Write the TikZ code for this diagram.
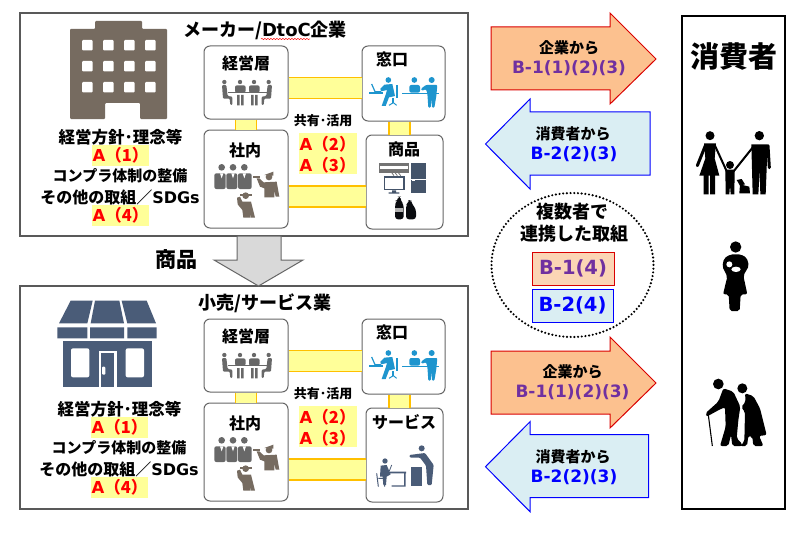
\documentclass[tikz,border=0pt]{standalone}
\usepackage{fontspec}
\setmainfont{Noto Sans CJK JP}
\newfontfamily\lat{DejaVu Sans}
\usetikzlibrary{decorations.pathmorphing}
\newcommand\fsz[1]{\fontsize{#1}{#1}\selectfont}
\definecolor{bandy}{HTML}{FFFF99}
\definecolor{bando}{HTML}{FFC000}
\definecolor{hly}{HTML}{FFFF99}
\definecolor{brownic}{HTML}{766B60}
\definecolor{slate}{HTML}{44546A}
\definecolor{store}{HTML}{4A5C78}
\definecolor{greyic}{HTML}{686868}
\definecolor{blueic}{HTML}{1E95CE}
\definecolor{orangef}{HTML}{FCC18F}
\definecolor{lightb}{HTML}{DAEEF3}
\definecolor{purp}{HTML}{7030A0}
\definecolor{orangeb}{HTML}{FBD5B5}
\tikzset{
  framebox/.style={draw=black!65,line width=1.2pt,fill=white,inner sep=0pt},
  unitbox/.style={draw=black!60,line width=1pt,fill=white,rounded corners=6pt,inner sep=0pt},
  band/.style={draw=bando,line width=1.6pt,double=bandy,double distance=19.5pt},
  lbl/.style={font=\bfseries\fsz{15},text=black,inner sep=0pt},
  ulbl/.style={font=\bfseries\fsz{16},text=black,inner sep=0pt},
  tag/.style={font=\bfseries\fsz{16.5},text=red,fill=hly,inner sep=0pt,minimum width=57pt,minimum height=21pt},
  tagb/.style={text=red,font=\bfseries\fsz{16.5},inner sep=0pt,anchor=west},
  redarrow/.style={draw=red!85!black,line width=1pt,fill=orangef},
  bluearrow/.style={draw=blue,line width=1pt,fill=lightb},
  btxt/.style={font=\lat\bfseries\fsz{17},inner sep=0pt},
  icon/.style={scale=1/3},
  limb/.style={line width=3pt,line cap=round},
}
\newcommand\atag[1]{{\lat A}（#1）}
% prefix, title, product label, x shift of left text, y shift of left text
\newcommand\panel[5]{%
  \node[framebox,minimum width=448pt,minimum height=223pt] (#1frame) at (244,124.5) {};
  \node[font=\bfseries\fsz{18},inner sep=0pt] (#1title) at (265,30) {#2};
  \node[unitbox,minimum width=84pt,minimum height=73pt] (#1mg) at (246,82.5) {};
  \node[unitbox,minimum width=83pt,minimum height=75pt] (#1win) at (403.5,83.5) {};
  \node[unitbox,minimum width=84pt,minimum height=98pt] (#1in) at (246,179) {};
  \node[unitbox,minimum width=77pt,minimum height=94pt] (#1prod) at (404.5,182) {};
  \draw[band] ([yshift=-5.5pt]#1mg.east) -- ([yshift=-5.5pt]#1mg.east -| #1win.west);
  \draw[band] ([yshift=-17.5pt]#1in.east) -- ([yshift=-17.5pt]#1in.east -| #1prod.west);
  \draw[band] (#1mg.south) -- (#1in.north);
  \draw[band] ([xshift=-4pt]#1win.south) -- ([xshift=-4pt]#1win.south |- #1prod.north);
  \node[ulbl] (#1lmg) at (246,63) {経営層};
  \node[ulbl] (#1lwin) at (392,59) {窓口};
  \node[ulbl] (#1lin) at (245,150) {社内};
  \node[ulbl] (#1lprod) at (404,149.5) {#3};
  \node[font=\bfseries\fsz{13},inner sep=0pt] (#1share) at (323,121) {共有･活用};
  \node[fill=hly,minimum width=58pt,minimum height=41pt,inner sep=0pt] (#1hl) at (328,153.5) {};
  \node[tagb] (#1a2) at (299.5,144) {\atag{2}};
  \node[tagb] (#1a3) at (299.5,165) {\atag{3}};
  \begin{scope}[shift={(#4,#5)}]
    \node[lbl,font=\bfseries\fsz{16.5}] (#1t1) at (120.5,137) {経営方針･理念等};
    \node[tag] (#1a1) at (120.5,155.5) {\atag{1}};
    \node[lbl] (#1t2) at (120,176) {コンプラ体制の整備};
    \node[lbl,font=\bfseries\fsz{16}] (#1t3) at (120,197) {その他の取組／{\lat SDGs}};
    \node[tag] (#1a4) at (120.5,215.5) {\atag{4}};
  \end{scope}
}
\newcommand\meeting{%
  \fill[greyic] (58,36) circle (6.5) (105,36) circle (6.5) (147,36) circle (6.5) (191,36) circle (6.5);
  \fill[greyic,rounded corners=2pt] (90,46) rectangle (122,68) (132,46) rectangle (164,68);
  \fill[greyic] (68,65) rectangle (186,70);
  \fill[greyic] (96,75) rectangle (104,106) (108,75) rectangle (116,106) (138,75) rectangle (146,106) (150,75) rectangle (158,106);
  \fill[greyic,rounded corners=1pt] (51,45) -- (64,45) -- (68,78) -- (82,80) -- (82,105) -- (76,105) -- (74,86) -- (54,86) -- cycle;
  \fill[greyic,rounded corners=1pt] (201,45) -- (188,45) -- (184,78) -- (170,80) -- (170,105) -- (176,105) -- (178,86) -- (198,86) -- cycle;
}
\newcommand\counter{%
  \fill[blueic] (12,67) rectangle (55,71);
  \draw[blueic,line width=1.2pt] (20,42) -- (30,65) -- (48,65);
  \fill[blueic] (70,30) circle (8.5) (148,30) circle (8.5) (200,30) circle (9);
  \fill[blueic] (58,44) -- (82,42) -- (90,78) -- (72,82) -- (62,108) -- (50,108) -- (62,74) -- (66,60) -- (48,64) -- (46,56) -- cycle;
  \fill[blueic] (93,46) rectangle (99,85);
  \fill[blueic] (82,85) rectangle (88,100);
  \draw[blueic,line width=1pt] (72,106) -- (85,98) -- (95,106);
  \fill[blueic] (110,68) rectangle (222,73);
  \fill[blueic,rounded corners=2pt] (133,45) rectangle (165,68);
  \fill[blueic,rounded corners=1pt] (183,45) -- (217,45) -- (214,78) -- (208,113) -- (201,113) -- (199,85) -- (197,113) -- (190,113) -- (187,70) -- (183,58) -- (170,62) -- (168,56) -- cycle;
}
\newcommand\staff{%
  \fill[greyic] (50,37) circle (10) (84,37) circle (10) (118,37) circle (10);
  \fill[greyic,rounded corners=2pt] (28,55) rectangle (62,102) (64,55) rectangle (97,102) (99,55) rectangle (140,102);
  \fill[white] (45,55) -- (55,55) -- (50,70) -- cycle (79,55) -- (89,55) -- (84,70) -- cycle (113,55) -- (123,55) -- (118,70) -- cycle;
  \fill[brownic] (192,66) circle (10);
  \fill[brownic] (178,60) -- (205,50) -- (205,62) -- cycle;
  \fill[brownic] (145,62) rectangle (165,70);
  \fill[brownic] (155,70) -- (163,70) -- (176,82) -- (215,80) -- (223,125) -- (212,125) -- (208,105) -- (208,127) -- (178,127) -- (178,100) -- (165,95) -- cycle;
  \fill[brownic] (122,122) circle (10);
  \fill[brownic] (106,118) rectangle (140,123);
  \fill[brownic] (96,128) -- (105,125) -- (112,140) -- (138,140) -- (150,188) -- (138,188) -- (136,170) -- (136,188) -- (115,188) -- (112,165) -- (98,148) -- cycle;
}
\begin{document}
\begin{tikzpicture}[x=1pt,y=-1pt]
\useasboundingbox (0,0) rectangle (810,532);
\panel{m}{メーカー/{\lat D\hspace{-.2pt}toC}企業}{商品}{0}{0}
\draw[red,line width=.5pt,decorate,decoration={snake,amplitude=.6pt,segment length=3pt}] (261,39) -- (310,39);
\begin{scope}[shift={(0,273)}]
\panel{s}{小売/サービス業}{サービス}{-1}{-1}
\end{scope}
% big arrow between the panels
\draw[draw=black!60,line width=1pt,fill=black!15] (237,236) -- (281,236) -- (281,260) -- (303,260) -- (258.5,286) -- (214,260) -- (237,260) -- cycle;
\node[font=\bfseries\fsz{21},inner sep=0pt] (goods) at (176,260) {商品};
% building
\fill[brownic,rounded corners=1pt] (70,29) -- (95,29) -- (95,21) -- (142,21) -- (142,29) -- (167,29) -- (167,119) -- (140,119) -- (140,103) -- (105,103) -- (105,119) -- (70,119) -- cycle;
\foreach \wx in {82,103,124,145}\foreach \wy in {40,61,82}
  \fill[white,rounded corners=1pt] (\wx,\wy) rectangle +(10.5,10.5);
% store
\begin{scope}[shift={(0,270)},icon]
\fill[store] (212,92) -- (278,92) -- (262,160) -- (177,160) -- cycle
 (285,92) -- (358,92) -- (372,160) -- (272,160) -- cycle
 (365,92) -- (440,92) -- (468,160) -- (382,160) -- cycle;
\fill[store] (172,172) rectangle (262,205) (270,172) rectangle (372,205) (382,172) rectangle (470,205);
\fill[store] (190,213) rectangle (455,350);
\fill[white,rounded corners=2pt] (213,235) rectangle (268,322) (377,235) rectangle (432,322);
\fill[white] (296,243) rectangle (350,350);
\fill[store] (303,250) rectangle (343,350);
\fill[white,rounded corners=1pt] (306,290) rectangle (316,314);
\end{scope}
% upper panel icons
\begin{scope}[shift={(205,70)},icon]\meeting\end{scope}
\begin{scope}[shift={(365,70)},icon]\counter\end{scope}
\begin{scope}[shift={(205,155)},icon]\staff\end{scope}
\begin{scope}[shift={(370,155)},icon]
\fill[black!55] (26,25) rectangle (118,53);
\fill[white] (30,32) rectangle (114,42);
\draw[black!55,line width=.8pt] (65,53) -- (72,62) (75,53) -- (82,62) (85,53) -- (92,62);
\fill[slate] (122,25) rectangle (168,115);
\draw[white,line width=.5pt] (122,72) -- (168,72);
\fill[white] (126,74) rectangle (136,78);
\draw[slate,line width=1.5pt,fill=white] (43,66) rectangle (102,104);
\fill[slate] (66,106) rectangle (78,112) (56,112) rectangle (88,116);
\fill[black!85!slate,rounded corners=3pt] (76,138) -- (84,138) -- (84,125) -- (92,125) -- (92,138) -- (101,148) -- (101,193) -- (75,193) -- cycle;
\fill[white!70!black] (76,160) rectangle (100,172);
\fill[black!85!slate,rounded corners=3pt] (108,150) -- (115,145) -- (115,135) -- (123,135) -- (125,145) -- (138,163) -- (138,193) -- (108,193) -- cycle;
\end{scope}
% lower panel icons
\begin{scope}[shift={(205,343)},icon]\meeting\end{scope}
\begin{scope}[shift={(365,343)},icon]\counter\end{scope}
\begin{scope}[shift={(205,428)},icon]\staff\end{scope}
\begin{scope}[shift={(370,435)},icon]
\fill[store] (45,78) circle (8) (155,40) circle (9);
\fill[store] (32,92) -- (50,90) -- (62,118) -- (50,125) -- (48,150) -- (40,150) -- (38,125) -- (30,125) -- cycle;
\fill[store] (55,110) rectangle (108,115) (102,115) rectangle (107,155) (65,151) rectangle (107,155);
\draw[store,line width=1pt] (20,115) -- (25,155) (25,130) -- (42,130) -- (44,155);
\draw[store,line width=.8pt] (65,90) -- (58,108);
\fill[store,rounded corners=1pt] (118,60) -- (165,54) -- (191,90) -- (185,150) -- (172,150) -- (168,92) -- (150,68) -- (120,68) -- cycle;
\fill[store] (122,97) rectangle (155,152);
\end{scope}
% right arrows
\draw[redarrow] (491,27) -- (610,27) -- (610,13) -- (656,59) -- (610,104) -- (610,90) -- (491,90) -- cycle;
\node[font=\bfseries\fsz{15},inner sep=0pt] (ar1a) at (569,48) {企業から};
\node[btxt,text=purp] (ar1b) at (569,68) {B-1(1)(2)(3)};
\draw[bluearrow] (650,112) -- (530,112) -- (530,99) -- (485.5,144) -- (530,189) -- (530,175) -- (650,175) -- cycle;
\node[font=\bfseries\fsz{15},inner sep=0pt] (ar2a) at (573,134) {消費者から};
\node[btxt,text=blue] (ar2b) at (574,154) {B-2(2)(3)};
\begin{scope}[shift={(0,324)}]
\draw[redarrow] (491,27) -- (610,27) -- (610,13) -- (656,59) -- (610,104) -- (610,90) -- (491,90) -- cycle;
\node[font=\bfseries\fsz{15},inner sep=0pt] (ar3a) at (572.5,48) {企業から};
\node[btxt,text=purp] (ar3b) at (572.5,68) {B-1(1)(2)(3)};
\end{scope}
\begin{scope}[shift={(0,322.7)}]
\draw[bluearrow] (648.5,112) -- (530,112) -- (530,99) -- (485.5,144) -- (530,189) -- (530,175) -- (648.5,175) -- cycle;
\node[font=\bfseries\fsz{15},inner sep=0pt] (ar4a) at (573,134) {消費者から};
\node[btxt,text=blue] (ar4b) at (574,154) {B-2(2)(3)};
\end{scope}
% dotted circle
\draw[line width=2.4pt,line cap=round,dash pattern=on 0pt off 3.7pt] (572.5,265) ellipse [x radius=81,y radius=72];
\node[font=\bfseries\fsz{18},inner sep=0pt] (c1) at (572,212) {複数者で};
\node[font=\bfseries\fsz{18},inner sep=0pt] (c2) at (574,234) {連携した取組};
\node[draw=red!85!black,line width=1pt,fill=orangeb,text=purp,font=\lat\bfseries\fsz{19.5},minimum width=82pt,minimum height=33pt,inner sep=0pt] (b14) at (573,268.5) {B-1(4)};
\node[draw=blue,line width=1pt,fill=lightb,text=blue,font=\lat\bfseries\fsz{19.5},minimum width=81pt,minimum height=33pt,inner sep=0pt] (b24) at (572.5,305.5) {B-2(4)};
% consumers
\node[draw=black,line width=2.6pt,fill=none,minimum width=103pt,minimum height=493pt,inner sep=0pt] (cons) at (733.5,262.5) {};
\node[font=\bfseries\fsz{29},inner sep=0pt] (constitle) at (733.5,57) {消費者};
% family
\begin{scope}[shift={(690,125)},icon]
\fill (60,32) circle (13.5) (208,32) circle (14) (120,120) circle (12);
\fill (42,55) -- (78,55) -- (74,100) -- (88,152) -- (28,152) -- (46,100) -- cycle;
\fill (41,150) rectangle (56,208) (60,150) rectangle (75,208);
\draw[limb] (46,62) -- (22,122);
\draw[line width=2pt,line cap=round] (74,60) -- (113,145);
\fill (184,58) -- (232,58) -- (230,130) -- (227,208) -- (211,208) -- (209,135) -- (205,208) -- (188,208) -- cycle;
\draw[line width=2pt,line cap=round] (190,65) -- (130,140);
\draw[limb] (234,62) -- (238,128);
\fill (106,134) -- (134,134) -- (133,208) -- (122,208) -- (120,180) -- (118,208) -- (107,208) -- cycle;
\fill (150,178) -- (178,185) -- (180,205) -- (148,205) -- cycle;
\fill (140,165) -- (155,162) -- (165,178) -- (150,182) -- cycle;
\end{scope}
% mother with baby
\begin{scope}[shift={(700,235)},icon]
\fill (107,36) circle (17);
\fill[rounded corners=2pt] (92,58) -- (122,58) -- (140,68) -- (147,92) -- (130,122) -- (142,178) -- (122,178) -- (119,228) -- (89,228) -- (86,178) -- (69,178) -- (82,125) -- (67,95) -- (72,70) -- cycle;
\fill[white] (88,88) circle (9);
\fill[white] (108,103) ellipse [x radius=14,y radius=8];
\end{scope}
% elderly
\begin{scope}[shift={(695,370)},icon]
\fill (70,42) circle (16) (142,55) circle (15);
\fill[rounded corners=2pt] (85,55) -- (115,65) -- (136,110) -- (130,150) -- (125,205) -- (142,222) -- (142,228) -- (112,228) -- (108,195) -- (100,228) -- (75,228) -- (92,170) -- (90,112) -- (75,118) -- (35,140) -- (31,130) -- (70,95) -- cycle;
\draw[line width=1.1pt] (40,135) -- (52,228);
\fill[rounded corners=2pt] (150,70) -- (175,78) -- (195,115) -- (215,195) -- (192,198) -- (200,215) -- (205,228) -- (175,228) -- (172,200) -- (160,198) -- (156,228) -- (135,228) -- (148,215) -- (150,125) -- (138,112) -- (152,95) -- cycle;
\end{scope}
\end{tikzpicture}
\end{document}
